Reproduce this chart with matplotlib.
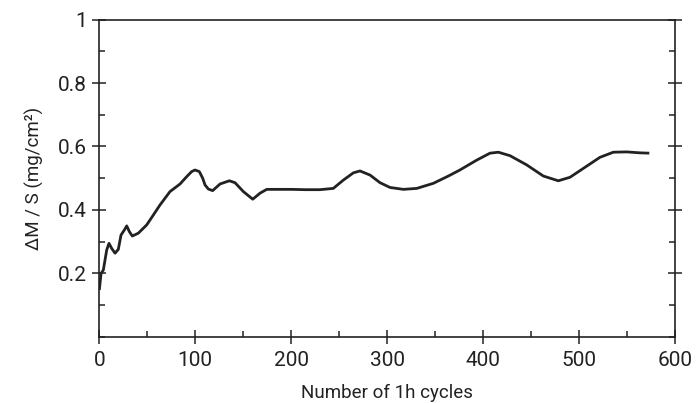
import matplotlib
matplotlib.use("Agg")
import matplotlib.pyplot as plt
from matplotlib.ticker import MultipleLocator

plt.rcParams['font.family'] = ['Roboto', 'DejaVu Sans']

# mass gain curve
cycles = [0, 1.8, 4.2, 7.7, 10.1, 12.9, 16.4, 19.8, 22.6, 26.1, 28.6, 31.3, 34.4,
          40.7, 49.4, 56.3, 63.3, 73.7, 84.2, 91.1, 96.3, 99.8, 104.3, 107.8,
          110.2, 113.7, 118.2, 125.9, 135.6, 141.5, 150.2, 160, 167.6, 174.6,
          185, 200, 215, 230, 244, 254.4, 264.9, 271.8, 282.3, 292.7, 303.1,
          317, 331, 348.3, 364, 376, 393.5, 407.4, 416.1, 428.3, 445.7, 463,
          478.6, 490.8, 504.7, 522.1, 536, 549.9, 563.8, 573.5]
mass_gain = [0.148, 0.2, 0.211, 0.274, 0.295, 0.279, 0.264, 0.276, 0.321, 0.337,
             0.35, 0.332, 0.318, 0.327, 0.353, 0.384, 0.416, 0.458, 0.482, 0.505,
             0.521, 0.526, 0.521, 0.5, 0.479, 0.466, 0.461, 0.482, 0.492, 0.486,
             0.458, 0.434, 0.453, 0.465, 0.465, 0.465, 0.464, 0.464, 0.468, 0.494,
             0.517, 0.523, 0.510, 0.486, 0.471, 0.465, 0.468, 0.484, 0.507, 0.526,
             0.557, 0.579, 0.582, 0.571, 0.542, 0.507, 0.492, 0.503, 0.531, 0.566,
             0.582, 0.583, 0.580, 0.579]

xticks = [0, 100, 200, 300, 400, 500, 600]
yticks = [0.2, 0.4, 0.6, 0.8, 1.0]
yticklabels = ['0.2', '0.4', '0.6', '0.8', '1']

col = '#222222'
fig = plt.figure(figsize=(6.96, 4.03), dpi=100)
ax = fig.add_axes([0.1427, 0.1638, 0.8267, 0.7878])

ax.plot(cycles, mass_gain, color=col, lw=2.0, solid_joinstyle='round',
        solid_capstyle='butt')

ax.set_xlim(0, 600)
ax.set_ylim(0, 1)
ax.set_xticks(xticks)
ax.set_yticks(yticks)
ax.set_yticklabels(yticklabels)
ax.xaxis.set_minor_locator(MultipleLocator(50))
ax.yaxis.set_minor_locator(MultipleLocator(0.1))

for s in ax.spines.values():
    s.set_color(col)
    s.set_linewidth(1.2)

ax.tick_params(which='major', direction='inout', length=10, width=1.1, colors=col,
               labelsize=15, labelcolor='#222222', right=True, top=False)
ax.tick_params(which='minor', direction='in', length=4, width=1.1, colors=col,
               right=True, top=False)
ax.tick_params(axis='x', which='major', pad=5)
ax.tick_params(axis='y', which='major', pad=4)

ax.set_xlabel('Number of 1h cycles', fontsize=13.5, color='#222222', labelpad=10)
ax.set_ylabel('ΔM / S (mg/cm²)', fontsize=13.5, color='#222222', labelpad=10)

fig.savefig('out.png', dpi=100)
